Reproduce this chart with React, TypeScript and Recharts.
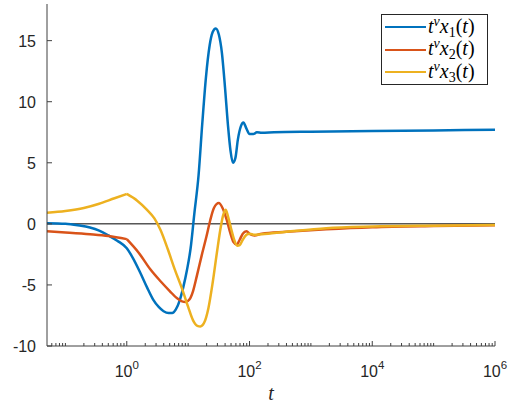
import React from 'react';
import { LineChart, Line, XAxis, YAxis, ReferenceLine, Legend } from 'recharts';

// x values are log10(t); the axis is labelled as powers of ten
const x1LogT = [-1.3, -1.0, -0.8, -0.6, -0.45, -0.3, -0.15, 0.0, 0.1, 0.22, 0.33, 0.43, 0.52, 0.6, 0.68, 0.74, 0.8, 0.86, 0.92, 0.98, 1.04, 1.1, 1.17, 1.23, 1.29, 1.35, 1.4, 1.45, 1.5, 1.55, 1.6, 1.65, 1.69, 1.73, 1.77, 1.81, 1.86, 1.9, 1.95, 2.0, 2.06, 2.12, 2.2, 2.4, 3, 4, 5, 6];
const x1Values = [0.05, 0.0, -0.12, -0.3, -0.55, -0.95, -1.4, -2.0, -2.8, -4.0, -5.2, -6.2, -6.8, -7.15, -7.3, -7.3, -7.0, -6.3, -5.2, -3.8, -2.0, 0.8, 4.0, 8.2, 12.0, 14.6, 15.7, 16.0, 15.5, 14.0, 11.2, 8.0, 6.0, 5.0, 5.4, 6.9, 8.0, 8.3, 7.8, 7.35, 7.35, 7.5, 7.45, 7.5, 7.55, 7.6, 7.65, 7.7];

const x2LogT = [-1.3, -1.0, -0.6, -0.3, 0, 0.2, 0.38, 0.55, 0.7, 0.82, 0.9, 0.96, 1.02, 1.08, 1.14, 1.22, 1.3, 1.36, 1.42, 1.5, 1.56, 1.63, 1.69, 1.74, 1.79, 1.84, 1.89, 1.95, 2.01, 2.08, 2.2, 2.6, 3.25, 4, 5, 6];
const x2Values = [-0.6, -0.7, -0.85, -1.0, -1.25, -2.4, -3.7, -4.7, -5.5, -6.1, -6.35, -6.4, -6.2, -5.5, -4.3, -2.6, -1.0, 0.3, 1.3, 1.7, 1.3, 0.3, -0.8, -1.5, -1.7, -1.3, -0.8, -0.6, -0.85, -0.95, -0.8, -0.65, -0.45, -0.28, -0.18, -0.12];

const x3LogT = [-1.3, -1.0, -0.7, -0.45, -0.2, 0, 0.17, 0.33, 0.45, 0.55, 0.67, 0.78, 0.9, 1.0, 1.08, 1.15, 1.2, 1.26, 1.33, 1.4, 1.47, 1.53, 1.57, 1.61, 1.65, 1.7, 1.75, 1.8, 1.84, 1.89, 1.95, 2.0, 2.08, 2.2, 2.6, 3.25, 4, 5, 6];
const x3Values = [0.9, 1.05, 1.3, 1.65, 2.1, 2.45, 1.9, 1.15, 0.45, -0.5, -2.1, -3.7, -5.3, -6.8, -7.9, -8.35, -8.4, -8.1, -6.9, -4.8, -2.3, -0.3, 0.7, 1.15, 0.6, -0.4, -1.3, -1.8, -1.75, -1.3, -0.9, -0.8, -0.9, -0.85, -0.65, -0.35, -0.22, -0.15, -0.1];

const xMajorTicks = [0, 2, 4, 6];
const yTicks = [-10, -5, 0, 5, 10, 15];

const BLUE = '#0072BD';
const RED = '#D95319';
const YELLOW = '#EDB120';
const AXIS = '#404040';
const TEXT = '#262626';
const SANS = '"Liberation Sans", Arial, Helvetica, sans-serif';
const SERIF = '"Liberation Serif", "DejaVu Serif", serif';

const zip = (xs: number[], ys: number[]) => xs.map((x, i) => ({ x, y: ys[i] }));
// series 2 and 3 have a corner at t = 1, so each is drawn as two smooth pieces
const before = (pts: { x: number; y: number }[]) => pts.filter((p) => p.x <= 0);
const after = (pts: { x: number; y: number }[]) => pts.filter((p) => p.x >= 0);

const x1 = zip(x1LogT, x1Values);
const x2 = zip(x2LogT, x2Values);
const x3 = zip(x3LogT, x3Values);

const xTicks: number[] = [];
for (let k = -2; k <= 6; k++) {
  for (let m = 1; m <= 9; m++) {
    const v = k + Math.log10(m);
    if (v >= -1.3 && v <= 6) xTicks.push(v);
  }
}
const isMajor = (v: number) => xMajorTicks.includes(v);

function BottomTick({ x, y, payload }: any) {
  const v = payload.value;
  const major = isMajor(v);
  return (
    <g>
      <line x1={x} x2={x} y1={y} y2={y - (major ? 5 : 3)} stroke={AXIS} strokeWidth={1} />
      {major && (
        <text x={x} y={y + 31} textAnchor="middle" fill={TEXT} fontSize={16} fontFamily={SANS}>
          10
          <tspan dy={-8} fontSize={11.5}>{v}</tspan>
        </text>
      )}
    </g>
  );
}

function TopTick({ x, y, payload }: any) {
  const major = isMajor(payload.value);
  return <line x1={x} x2={x} y1={y} y2={y + (major ? 5 : 3)} stroke={AXIS} strokeWidth={1} />;
}

function LeftTick({ x, y, payload }: any) {
  return (
    <g>
      <line x1={x} x2={x + 5} y1={y} y2={y} stroke={AXIS} strokeWidth={1} />
      <text x={x - 11} y={y} dy={6} textAnchor="end" fill={TEXT} fontSize={16} fontFamily={SANS}>
        {payload.value}
      </text>
    </g>
  );
}

function RightTick({ x, y }: any) {
  return <line x1={x} x2={x - 5} y1={y} y2={y} stroke={AXIS} strokeWidth={1} />;
}

const legendItems = [
  { color: BLUE, sub: '1' },
  { color: RED, sub: '2' },
  { color: YELLOW, sub: '3' },
];

function LegendBox() {
  return (
    <div
      style={{
        border: '1px solid #262626',
        background: '#fff',
        width: 105,
        height: 68,
        padding: '1px 0 0 0',
        boxSizing: 'content-box',
      }}
    >
      {legendItems.map((it) => (
        <div key={it.sub} style={{ display: 'flex', alignItems: 'center', height: 22.5 }}>
          <div style={{ width: 41, height: 2.4, background: it.color, marginLeft: 3, marginRight: 2, flex: 'none' }} />
          <span style={{ fontFamily: SERIF, fontSize: 20, color: '#000', whiteSpace: 'nowrap', lineHeight: '20px' }}>
            <i>t</i>
            <span style={{ fontSize: 14, position: 'relative', top: -7 }}>
              <i>ν</i>
            </span>
            <i>x</i>
            <span style={{ fontSize: 14, position: 'relative', top: 4 }}>{it.sub}</span>(<i>t</i>)
          </span>
        </div>
      ))}
    </div>
  );
}

export default function App() {
  const common = { type: 'monotone' as const, dataKey: 'y', dot: false, isAnimationActive: false, strokeWidth: 2.5 };
  return (
    <div style={{ position: 'absolute', left: 0, top: 0, width: 519, height: 406, background: '#fff' }}>
      <LineChart width={519} height={406} margin={{ top: 4, right: 24, left: 0, bottom: 0 }}>
        <XAxis
          type="number"
          dataKey="x"
          domain={[-1.3, 6]}
          ticks={xTicks}
          interval={0}
          allowDataOverflow
          height={60}
          tickSize={0}
          tickMargin={0}
          tickLine={false}
          tick={<BottomTick />}
          axisLine={{ stroke: AXIS, strokeWidth: 1 }}
          label={{ value: 't', position: 'insideBottom', offset: 6, fontFamily: SERIF, fontStyle: 'italic', fontSize: 20, fill: TEXT }}
        />
        <XAxis
          xAxisId="top"
          orientation="top"
          type="number"
          dataKey="x"
          domain={[-1.3, 6]}
          ticks={xTicks}
          interval={0}
          allowDataOverflow
          height={0}
          tickSize={0}
          tickMargin={0}
          tickLine={false}
          tick={<TopTick />}
          axisLine={{ stroke: AXIS, strokeWidth: 1 }}
        />
        <YAxis
          type="number"
          domain={[-10, 18]}
          ticks={yTicks}
          interval={0}
          allowDataOverflow
          width={47}
          tickSize={0}
          tickMargin={0}
          tickLine={false}
          tick={<LeftTick />}
          axisLine={{ stroke: AXIS, strokeWidth: 1 }}
        />
        <YAxis
          yAxisId="right"
          orientation="right"
          type="number"
          domain={[-10, 18]}
          ticks={yTicks}
          interval={0}
          allowDataOverflow
          width={0}
          tickSize={0}
          tickMargin={0}
          tickLine={false}
          tick={<RightTick />}
          axisLine={{ stroke: AXIS, strokeWidth: 1 }}
        />
        <ReferenceLine y={0} stroke="#000" strokeWidth={1} />
        <Line {...common} data={x1} stroke={BLUE} name="x1" />
        <Line {...common} data={before(x2)} stroke={RED} name="x2a" />
        <Line {...common} data={after(x2)} stroke={RED} name="x2b" />
        <Line {...common} data={before(x3)} stroke={YELLOW} name="x3a" />
        <Line {...common} data={after(x3)} stroke={YELLOW} name="x3b" />
        <Legend
          layout="vertical"
          align="center"
          verticalAlign="middle"
          content={() => <LegendBox />}
          wrapperStyle={{ position: 'absolute', left: 381, top: 14, width: 107, height: 70 }}
        />
      </LineChart>
    </div>
  );
}
